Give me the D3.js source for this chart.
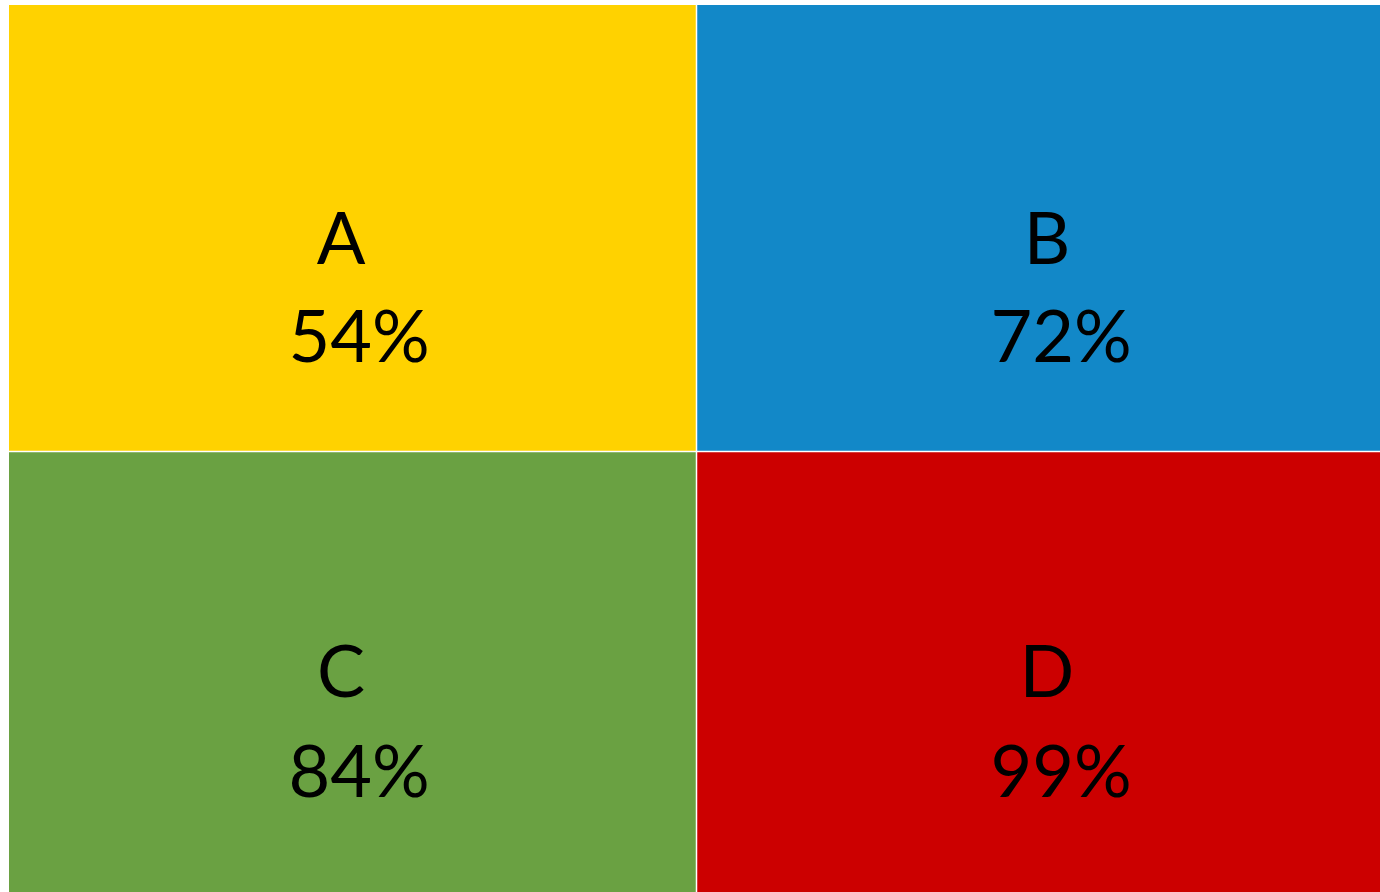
<!DOCTYPE html>
<html>
<head>
<meta charset="utf-8">
<script src="https://cdn.jsdelivr.net/npm/d3@7"></script>
<style>
  html, body { margin: 0; padding: 0; background: #fff; overflow: hidden; }
  svg { display: block; }
</style>
</head>
<body>
<div id="container"></div>
<script>
// data
const labels = ['A', 'B', 'C', 'D']
const values = [54, 72, 84, 99]
const colors = ['#ffd200', '#1288c8', '#6aa142', '#cc0000']

const width = 1380
const height = 892

// column / row edges of the grid (right column and bottom row run off the page)
const colEdges = [9, 696.5, 1420]
const rowEdges = [5, 451.5, 900]

// where the text sits inside each column / row
const labelX = d3.scaleOrdinal().domain([0, 1]).range([341, 1047])
const valueX = d3.scaleOrdinal().domain([0, 1]).range([359, 1061])
const labelY = d3.scaleOrdinal().domain([0, 1]).range([264, 697])
const valueY = d3.scaleOrdinal().domain([0, 1]).range([362, 797])

const data = labels.map((l, i) => ({
  label: l,
  value: values[i],
  color: colors[i],
  col: i % 2,
  row: Math.floor(i / 2)
}))

const svg = d3.select('#container')
  .append('svg')
  .attr('width', width)
  .attr('height', height)

const cell = svg.selectAll('.cell')
  .data(data)
  .enter().append('g')
  .attr('class', 'cell')

cell.append('rect')
  .attr('x', d => colEdges[d.col] + (d.col ? 0.75 : 0))
  .attr('y', d => rowEdges[d.row] + (d.row ? 0.75 : 0))
  .attr('width', d => colEdges[d.col + 1] - colEdges[d.col] - 0.75)
  .attr('height', d => rowEdges[d.row + 1] - rowEdges[d.row] - 0.75)
  .style('fill', d => d.color)

cell.append('text')
  .attr('x', d => labelX(d.col))
  .attr('y', d => labelY(d.row))
  .attr('text-anchor', 'middle')
  .style('font-family', 'Lato, sans-serif')
  .style('font-size', '72px')
  .style('fill', '#000')
  .text(d => d.label)

cell.append('text')
  .attr('x', d => valueX(d.col))
  .attr('y', d => valueY(d.row))
  .attr('text-anchor', 'middle')
  .style('font-family', 'Lato, sans-serif')
  .style('font-size', '72px')
  .style('fill', '#000')
  .text(d => d.value + '%')
</script>
</body>
</html>
